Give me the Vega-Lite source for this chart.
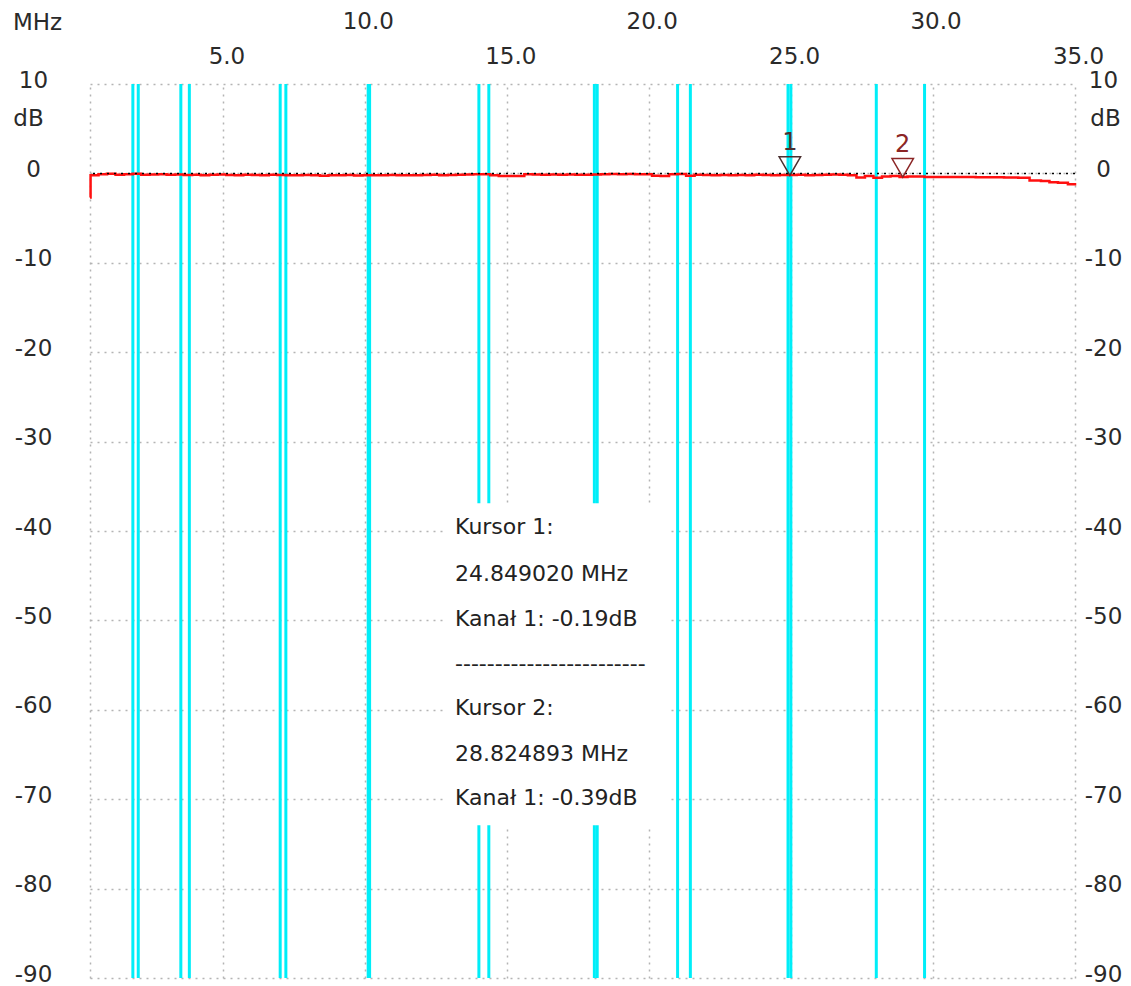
{
  "$schema": "https://vega.github.io/schema/vega-lite/v6.json",
  "width": 985,
  "height": 894,
  "autosize": {"type": "none"},
  "padding": {"left": 90, "top": 84, "right": 56, "bottom": 8},
  "background": "white",
  "config": {
    "view": {"stroke": null},
    "font": "DejaVu Sans",
    "axis": {
      "labelFont": "DejaVu Sans", "titleFont": "DejaVu Sans",
      "labelFontSize": 23, "titleFontSize": 23,
      "labelColor": "#2a2a2a", "titleColor": "#2a2a2a", "titleFontWeight": "normal",
      "domain": false, "ticks": false,
      "gridColor": "#b4b4b4", "gridDash": [2, 5], "gridWidth": 1.5,
      "labelOverlap": false, "labelFlush": false
    }
  },
  "datasets": {
    "bands": [
      {"f": 1.81}, {"f": 2.0}, {"f": 3.5}, {"f": 3.8}, {"f": 7.0}, {"f": 7.2},
      {"f": 10.1}, {"f": 10.15}, {"f": 14.0}, {"f": 14.35}, {"f": 18.068}, {"f": 18.168},
      {"f": 21.0}, {"f": 21.45}, {"f": 24.89}, {"f": 24.99}, {"f": 28.0}, {"f": 29.7}
    ],
    "trace": [
      {"f": 0.3, "db": -2.7}, {"f": 0.32, "db": -0.2}, {"f": 0.6, "db": -0.1}, {"f": 0.9, "db": -0.05},
      {"f": 1.2, "db": -0.15}, {"f": 1.5, "db": -0.1}, {"f": 1.8, "db": -0.05}, {"f": 2.1, "db": -0.15},
      {"f": 2.4, "db": -0.12}, {"f": 2.7, "db": -0.1}, {"f": 3.0, "db": -0.15}, {"f": 3.3, "db": -0.12},
      {"f": 3.6, "db": -0.18}, {"f": 3.9, "db": -0.15}, {"f": 4.2, "db": -0.2}, {"f": 4.5, "db": -0.15},
      {"f": 4.8, "db": -0.12}, {"f": 5.1, "db": -0.18}, {"f": 5.4, "db": -0.2}, {"f": 5.7, "db": -0.15},
      {"f": 6.0, "db": -0.18}, {"f": 6.3, "db": -0.2}, {"f": 6.6, "db": -0.16}, {"f": 6.9, "db": -0.18},
      {"f": 7.2, "db": -0.2}, {"f": 7.5, "db": -0.22}, {"f": 7.8, "db": -0.18}, {"f": 8.1, "db": -0.2},
      {"f": 8.4, "db": -0.25}, {"f": 8.7, "db": -0.2}, {"f": 9.0, "db": -0.22}, {"f": 9.3, "db": -0.18},
      {"f": 9.6, "db": -0.24}, {"f": 9.9, "db": -0.2}, {"f": 10.2, "db": -0.22}, {"f": 10.5, "db": -0.2},
      {"f": 10.8, "db": -0.18}, {"f": 11.1, "db": -0.2}, {"f": 11.4, "db": -0.22}, {"f": 11.7, "db": -0.2},
      {"f": 12.0, "db": -0.18}, {"f": 12.3, "db": -0.15}, {"f": 12.6, "db": -0.2}, {"f": 12.9, "db": -0.18},
      {"f": 13.2, "db": -0.15}, {"f": 13.5, "db": -0.12}, {"f": 13.8, "db": -0.1}, {"f": 14.1, "db": -0.1},
      {"f": 14.4, "db": -0.2}, {"f": 14.7, "db": -0.3}, {"f": 15.0, "db": -0.28}, {"f": 15.3, "db": -0.3},
      {"f": 15.6, "db": -0.1}, {"f": 15.9, "db": -0.12}, {"f": 16.2, "db": -0.15}, {"f": 16.5, "db": -0.12},
      {"f": 16.8, "db": -0.15}, {"f": 17.1, "db": -0.12}, {"f": 17.4, "db": -0.15}, {"f": 17.7, "db": -0.15},
      {"f": 18.0, "db": -0.12}, {"f": 18.3, "db": -0.1}, {"f": 18.6, "db": -0.08}, {"f": 18.9, "db": -0.1},
      {"f": 19.2, "db": -0.08}, {"f": 19.5, "db": -0.1}, {"f": 19.8, "db": -0.1}, {"f": 20.1, "db": -0.25},
      {"f": 20.4, "db": -0.3}, {"f": 20.7, "db": -0.1}, {"f": 21.0, "db": -0.08}, {"f": 21.3, "db": -0.25},
      {"f": 21.6, "db": -0.15}, {"f": 21.9, "db": -0.18}, {"f": 22.2, "db": -0.2}, {"f": 22.5, "db": -0.18},
      {"f": 22.8, "db": -0.2}, {"f": 23.1, "db": -0.18}, {"f": 23.4, "db": -0.2}, {"f": 23.7, "db": -0.15},
      {"f": 24.0, "db": -0.18}, {"f": 24.3, "db": -0.2}, {"f": 24.6, "db": -0.18}, {"f": 24.85, "db": -0.19},
      {"f": 25.2, "db": -0.15}, {"f": 25.5, "db": -0.2}, {"f": 25.8, "db": -0.18}, {"f": 26.1, "db": -0.15},
      {"f": 26.4, "db": -0.12}, {"f": 26.7, "db": -0.15}, {"f": 27.0, "db": -0.2}, {"f": 27.3, "db": -0.45},
      {"f": 27.6, "db": -0.3}, {"f": 27.9, "db": -0.5}, {"f": 28.2, "db": -0.35}, {"f": 28.5, "db": -0.3},
      {"f": 28.82, "db": -0.39}, {"f": 29.1, "db": -0.35}, {"f": 29.4, "db": -0.35}, {"f": 29.7, "db": -0.4},
      {"f": 30.0, "db": -0.4}, {"f": 30.5, "db": -0.4}, {"f": 31.0, "db": -0.4}, {"f": 31.5, "db": -0.42},
      {"f": 32.0, "db": -0.42}, {"f": 32.5, "db": -0.45}, {"f": 33.0, "db": -0.5}, {"f": 33.4, "db": -0.8},
      {"f": 33.8, "db": -0.85}, {"f": 34.1, "db": -1.0}, {"f": 34.4, "db": -1.05}, {"f": 34.75, "db": -1.2},
      {"f": 35.0, "db": -1.35}
    ],
    "zero": [{"db": 0}],
    "box": [{"f": 12.74, "f2": 20.66, "db": -36.9, "db2": -72.9}],
    "notes": [
      {"f": 13.16, "db": -39.6, "t": "Kursor 1:"},
      {"f": 13.16, "db": -44.8, "t": "24.849020 MHz"},
      {"f": 13.16, "db": -49.8, "t": "Kanał 1: -0.19dB"},
      {"f": 13.16, "db": -54.9, "t": "------------------------"},
      {"f": 13.16, "db": -59.8, "t": "Kursor 2:"},
      {"f": 13.16, "db": -64.9, "t": "28.824893 MHz"},
      {"f": 13.16, "db": -69.9, "t": "Kanał 1: -0.39dB"}
    ],
    "toplabels": [
      {"f": 10, "db": 10, "t": "10.0"},
      {"f": 20, "db": 10, "t": "20.0"},
      {"f": 30, "db": 10, "t": "30.0"}
    ],
    "markers": [
      {"f": 24.849020, "db": -0.19, "id": "1"},
      {"f": 28.824893, "db": -0.39, "id": "2"}
    ]
  },
  "resolve": {"axis": {"y": "independent"}},
  "layer": [
    {
      "data": {"name": "bands"},
      "mark": {"type": "rule", "color": "#00EEF8", "strokeWidth": 3},
      "encoding": {
        "x": {
          "field": "f", "type": "quantitative",
          "scale": {"domain": [0.3, 35], "nice": false, "zero": false},
          "axis": {
            "orient": "top",
            "values": [0.3, 5, 10, 15, 20, 25, 30, 35],
            "grid": true,
            "labelExpr": "(datum.value < 1 || datum.value % 10 === 0) ? '' : format(datum.value, '.1f')",
            "labelBaseline": "middle", "labelAlign": "center",
            "labelPadding": 28, "labelOffset": 3,
            "title": "MHz", "titleX": -53, "titleY": -62, "titleAngle": 0,
            "titleAlign": "center", "titleBaseline": "middle"
          }
        }
      }
    },
    {
      "data": {"name": "trace"},
      "mark": {"type": "line", "color": "#FF1010", "strokeWidth": 2.5, "interpolate": "step-after"},
      "encoding": {
        "x": {"field": "f", "type": "quantitative"},
        "y": {
          "field": "db", "type": "quantitative",
          "scale": {"domain": [-90, 10], "nice": false, "zero": false},
          "axis": {
            "orient": "left",
            "values": [10, 0, -10, -20, -30, -40, -50, -60, -70, -80, -90],
            "grid": true,
            "labelExpr": "'' + datum.value",
            "labelAlign": "center", "labelBaseline": "middle",
            "labelPadding": 57, "labelOffset": -4,
            "title": "dB", "titleAngle": 0, "titleX": -62, "titleY": 34,
            "titleAlign": "center", "titleBaseline": "middle"
          }
        }
      }
    },
    {
      "data": {"name": "zero"},
      "mark": {"type": "rule", "color": "#000000", "strokeWidth": 1.5, "strokeDash": [2, 5]},
      "encoding": {
        "y": {
          "field": "db", "type": "quantitative",
          "axis": {
            "orient": "right",
            "values": [10, 0, -10, -20, -30, -40, -50, -60, -70, -80, -90],
            "grid": false,
            "labelExpr": "'' + datum.value",
            "labelAlign": "center", "labelBaseline": "middle",
            "labelPadding": 28, "labelOffset": -4,
            "title": "dB", "titleAngle": 0, "titleX": 30, "titleY": 34,
            "titleAlign": "center", "titleBaseline": "middle"
          }
        }
      }
    },
    {
      "data": {"name": "box"},
      "mark": {"type": "rect", "color": "white"},
      "encoding": {
        "x": {"field": "f", "type": "quantitative"},
        "x2": {"field": "f2"},
        "y": {"field": "db", "type": "quantitative", "axis": null},
        "y2": {"field": "db2"}
      }
    },
    {
      "data": {"name": "notes"},
      "mark": {"type": "text", "align": "left", "baseline": "middle", "font": "DejaVu Sans", "fontSize": 22, "color": "#222222"},
      "encoding": {
        "x": {"field": "f", "type": "quantitative"},
        "y": {"field": "db", "type": "quantitative", "axis": null},
        "text": {"field": "t"}
      }
    },
    {
      "data": {"name": "toplabels"},
      "mark": {"type": "text", "align": "center", "baseline": "middle", "font": "DejaVu Sans", "fontSize": 23, "color": "#2a2a2a", "dy": -62, "xOffset": 3},
      "encoding": {
        "x": {"field": "f", "type": "quantitative"},
        "y": {"field": "db", "type": "quantitative", "axis": null},
        "text": {"field": "t"}
      }
    },
    {
      "data": {"name": "markers"},
      "mark": {"type": "point", "shape": "triangle-down", "filled": false, "size": 460, "strokeWidth": 1.5, "yOffset": -9, "xOffset": 3, "opacity": 1},
      "encoding": {
        "x": {"field": "f", "type": "quantitative"},
        "y": {"field": "db", "type": "quantitative", "axis": null},
        "color": {"field": "id", "type": "nominal", "scale": {"domain": ["1", "2"], "range": ["#4a3030", "#8b2525"]}, "legend": null}
      }
    },
    {
      "data": {"name": "markers"},
      "mark": {"type": "text", "align": "center", "baseline": "middle", "font": "DejaVu Sans", "fontSize": 24, "dy": -32, "xOffset": 3},
      "encoding": {
        "x": {"field": "f", "type": "quantitative"},
        "y": {"field": "db", "type": "quantitative", "axis": null},
        "text": {"field": "id"},
        "color": {"field": "id", "type": "nominal", "scale": {"domain": ["1", "2"], "range": ["#4a3030", "#8b2525"]}, "legend": null}
      }
    }
  ]
}
